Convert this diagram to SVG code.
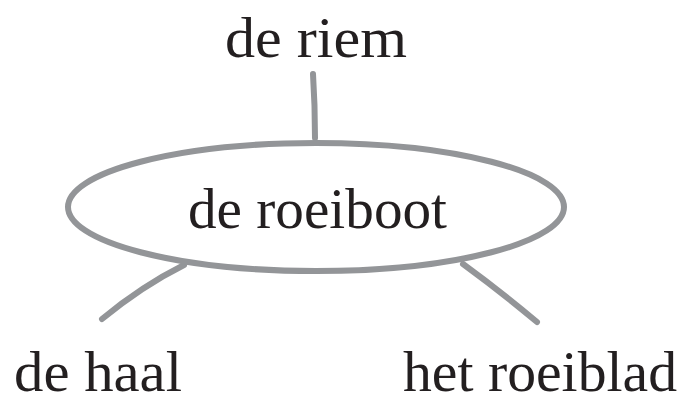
<svg xmlns="http://www.w3.org/2000/svg" width="683" height="398" viewBox="0 0 683 398">
<style>
.lbl{font-family:"Liberation Serif","Times New Roman",serif;font-size:58px;fill:#231f20}
.ln{stroke:#939598;fill:none;stroke-linecap:round}
</style>
<rect width="683" height="398" fill="#ffffff"/>
<g id="connectors">
<path class="ln" d="M313,74 Q315,105 315,138" stroke-width="6"/>
<path class="ln" d="M184,265 Q142,286 102,319" stroke-width="6"/>
<path class="ln" d="M463,264 Q500,291 537,322" stroke-width="6"/>
</g>
<g id="node-roeiboot">
<ellipse cx="316" cy="207" rx="248" ry="64" class="ln" stroke-width="6"/>
<text class="lbl" x="188" y="228" textLength="259" lengthAdjust="spacingAndGlyphs">de roeiboot</text>
</g>
<g id="node-riem">
<text class="lbl" x="225" y="57" textLength="182" lengthAdjust="spacingAndGlyphs">de riem</text>
</g>
<g id="node-haal">
<text class="lbl" x="14" y="391" font-size="57" textLength="168" lengthAdjust="spacingAndGlyphs">de haal</text>
</g>
<g id="node-roeiblad">
<text class="lbl" x="403" y="391" font-size="57" textLength="274" lengthAdjust="spacingAndGlyphs">het roeiblad</text>
</g>
</svg>
